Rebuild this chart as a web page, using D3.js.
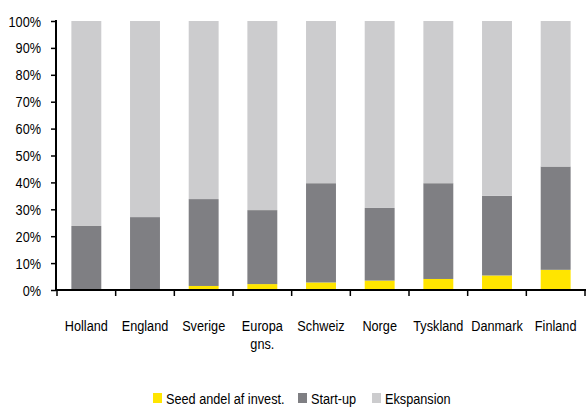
<!DOCTYPE html>
<html><head><meta charset="utf-8">
<script src="https://cdn.jsdelivr.net/npm/d3@7"></script>
<style>
body{margin:0;background:#fff;}
text{font-family:"Liberation Sans",Arial,sans-serif;fill:#000;}
</style></head>
<body><svg id="c" width="586" height="408"></svg>
<script>
const categories = ["Holland","England","Sverige","Europa gns.","Schweiz","Norge","Tyskland","Danmark","Finland"];
const seed    = [0.2, 0.2, 1.5, 2.2, 2.8, 3.5, 4.1, 5.4, 7.5];
const startup = [23.6, 26.9, 32.3, 27.5, 36.9, 27.0, 35.6, 29.6, 38.4];
const ekspansion = categories.map((c,i)=>+(100 - seed[i] - startup[i]).toFixed(1));
const seriesNames = ["Seed andel af invest.","Start-up","Ekspansion"];
const colors = ["#FFE500","#7F7F83","#CCCCCE"];
const yTicks = [0,10,20,30,40,50,60,70,80,90,100];

const SX = 0.82; // condensed text
const svg = d3.select("#c");
const m = {l:56, r:1, t:21};
const W = 586;
const x = d3.scaleBand().domain(categories).range([m.l+1, W-m.r]).paddingInner(0.49).paddingOuter(0.245);
const y = d3.scaleLinear().domain([0,100]).range([290,21]);

function ctext(g, tx, ty, str, anchor, size){
  return g.append("text").attr("transform",`translate(${tx},${ty}) scale(${SX},1)`)
    .attr("text-anchor",anchor).attr("font-size",size).text(str);
}

const rows = categories.map((c,i)=>({cat:c, s0:seed[i], s1:startup[i], s2:ekspansion[i]}));
const stack = d3.stack().keys(["s0","s1","s2"])(rows);

svg.append("g").selectAll("g").data(stack).join("g")
  .attr("fill",(d,i)=>colors[i])
  .selectAll("rect").data(d=>d).join("rect")
  .attr("x",d=>x(d.data.cat))
  .attr("width",x.bandwidth())
  .attr("y",d=>y(d[1]))
  .attr("height",d=>Math.max(0,y(d[0])-y(d[1])));

// y axis
const ya = svg.append("g").attr("transform",`translate(${m.l},0)`)
  .call(d3.axisLeft(y).tickValues(yTicks).tickFormat("").tickSize(5));
ya.select(".domain").attr("stroke","#000").attr("stroke-width",2).attr("d",`M0,${y(100)-1}V${y(0)}`);
ya.selectAll(".tick line").attr("stroke","#000").attr("stroke-width",1.5);
const yl = svg.append("g");
yTicks.forEach(v=>ctext(yl, 41, y(v)+5.5, v+"%", "end", 15.5));

// x axis
const xg = svg.append("g");
xg.append("line").attr("x1",m.l-1).attr("x2",W).attr("y1",y(0)).attr("y2",y(0)).attr("stroke","#000").attr("stroke-width",2);
const step = x.step();
const bounds = categories.map(c=>x(c)-x.paddingInner()*step/2);
bounds.push(x(categories[categories.length-1])+x.bandwidth()+x.paddingInner()*step/2);
xg.selectAll("line.t").data(bounds).join("line").attr("class","t")
  .attr("x1",d=>d).attr("x2",d=>d).attr("y1",y(0)).attr("y2",y(0)+6).attr("stroke","#000").attr("stroke-width",1.5);
categories.forEach(c=>{
  c.split(" ").forEach((p,i)=>ctext(xg, x(c)+x.bandwidth()/2, 331+i*18, p, "middle", 15.5));
});

// legend
const legX = [153, 298, 372];
const lg = svg.append("g");
seriesNames.forEach((n,i)=>{
  lg.append("rect").attr("x",legX[i]).attr("y",393).attr("width",9).attr("height",10).attr("fill",colors[i]);
  ctext(lg, legX[i]+13, 404, n, "start", 15.5);
});
</script></body></html>
